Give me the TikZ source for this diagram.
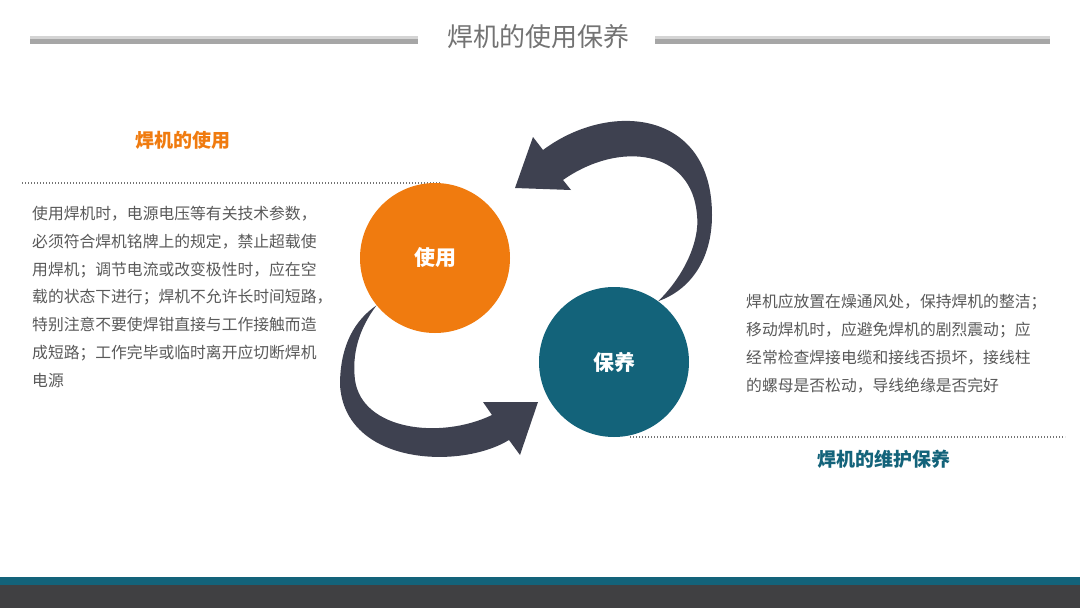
\documentclass[tikz,border=0pt]{standalone}
\usepackage{fontspec}
\usepackage{xcolor}
\usepackage{tikz}
\usetikzlibrary{backgrounds}
\newfontfamily\cjk{Noto Sans CJK SC}
\definecolor{useorange}{RGB}{240,123,15}
\definecolor{careteal}{RGB}{19,99,122}
\definecolor{arrowgray}{RGB}{62,65,80}
\definecolor{textgray}{RGB}{89,89,89}
\definecolor{bargray}{RGB}{64,64,66}

\begin{document}
\begin{tikzpicture}[x=1pt, y=-1pt, every node/.style={font=\cjk},
  bodytext/.style={text=textgray, font=\cjk\fontsize{15.8}{27.8}\selectfont, align=left, inner sep=0pt, anchor=north west},
  dotrule/.style={draw=black!55, line width=1.8pt, dash pattern=on 1.3pt off 1.7pt},
  bigcircle/.style={circle, minimum size=150pt, inner sep=0pt, text=white, font=\cjk\bfseries\fontsize{21}{25}\selectfont}]
  \useasboundingbox (0,0) rectangle (1080,608);
  % title with rules
  \node[text=black!55, font=\cjk\fontsize{26}{30}\selectfont] (title) at (538,37) {焊机的使用保养};
  \fill[black!17] (30,36) rectangle (418,39);
  \fill[black!35] (30,39) rectangle (418,44);
  \fill[black!17] (655,36) rectangle (1050,39);
  \fill[black!35] (655,39) rectangle (1050,44);
  % left side: use
  \node[text=useorange, font=\cjk\bfseries\fontsize{19}{23}\selectfont] (usehead) at (183,140) {焊机的使用};
  \draw[dotrule] (22,183) -- (440,183);
  \node[bodytext] (usetext) at (32,206) {使用焊机时，电源电压等有关技术参数，\\必须符合焊机铭牌上的规定，禁止超载使\\用焊机；调节电流或改变极性时，应在空\\载的状态下进行；焊机不允许长时间短路，\\特别注意不要使焊钳直接与工作接触而造\\成短路；工作完毕或临时离开应切断焊机\\电源};
  % circles
  \node[bigcircle, fill=useorange] (u) at (435,258) {使用};
  \node[bigcircle, fill=careteal] (s) at (614,362) {保养};
  \begin{scope}[on background layer]
    \fill[white] (0,0) rectangle (1080,608);
    % upper arrow: care -> use
    \fill[arrowgray] (s.54) .. controls (690,290) and (712,260) .. (712,215)
      .. controls (712,110) and (610,100) .. (543,150)
      -- (533,137) -- (515,188) -- (571,190) -- (563,180)
      .. controls (620,140) and (692,150) .. (697,215)
      .. controls (700,240) and (685,275) .. (s.54);
    % lower arrow: use -> care
    \fill[arrowgray] (u.219) .. controls (355,320) and (340,345) .. (340,385)
      .. controls (345,465) and (460,470) .. (509,440)
      -- (520,455) -- (538,402) -- (483,402) -- (492,415)
      .. controls (440,440) and (362,430) .. (355,380)
      .. controls (352,355) and (358,330) .. (u.219);
  \end{scope}
  % right side: care
  \node[bodytext] (caretext) at (746,294) {焊机应放置在燥通风处，保持焊机的整洁；\\移动焊机时，应避免焊机的剧烈震动；应\\经常检查焊接电缆和接线否损坏，接线柱\\的螺母是否松动，导线绝缘是否完好};
  \draw[dotrule] (630,437) -- (1065,437);
  \node[text=careteal, font=\cjk\bfseries\fontsize{19}{23}\selectfont] (carehead) at (884,459) {焊机的维护保养};
  % bottom bars
  \fill[careteal] (0,577) rectangle (1080,585);
  \fill[bargray] (0,585) rectangle (1080,608);
\end{tikzpicture}
\end{document}
